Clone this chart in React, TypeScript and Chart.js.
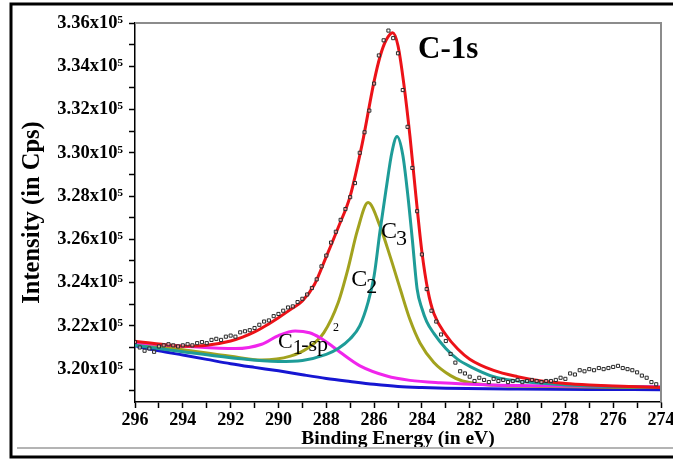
import React, { useEffect, useRef } from "react";
import { Chart, registerables } from "chart.js";
Chart.register(...registerables);

const FONT = "'Liberation Serif', 'Times New Roman', serif";

// Measured points (binding energy in eV, intensity in counts/s)
const dataEnergy = [
  296, 295.8, 295.6, 295.4, 295.2, 295, 294.8, 294.6, 294.4, 294.2,
  294, 293.8, 293.6, 293.4, 293.2, 293, 292.8, 292.6, 292.4, 292.2,
  292, 291.8, 291.6, 291.4, 291.2, 291, 290.8, 290.6, 290.4, 290.2,
  290, 289.8, 289.6, 289.4, 289.2, 289, 288.8, 288.6, 288.4, 288.2,
  288, 287.8, 287.6, 287.4, 287.2, 287, 286.8, 286.6, 286.4, 286.2,
  286, 285.8, 285.6, 285.4, 285.2, 285, 284.8, 284.6, 284.4, 284.2,
  284, 283.8, 283.6, 283.4, 283.2, 283, 282.8, 282.6, 282.4, 282.2,
  282, 281.8, 281.6, 281.4, 281.2, 281, 280.8, 280.6, 280.4, 280.2,
  280, 279.8, 279.6, 279.4, 279.2, 279, 278.8, 278.6, 278.4, 278.2,
  278, 277.8, 277.6, 277.4, 277.2, 277, 276.8, 276.6, 276.4, 276.2,
  276, 275.8, 275.6, 275.4, 275.2, 275, 274.8, 274.6, 274.4, 274.2,
];
const dataIntensity = [
  321250, 321000, 320850, 320950, 320800, 321050, 321100, 321150, 321100, 321050,
  321100, 321150, 321100, 321200, 321250, 321200, 321350, 321400, 321350, 321500,
  321550, 321500, 321700, 321750, 321800, 321900, 322050, 322200, 322250, 322450,
  322550, 322700, 322850, 322900, 323100, 323250, 323450, 323750, 324150, 324750,
  325250, 325850, 326350, 326900, 327400, 327950, 328600, 330000, 330950, 331950,
  333200, 334500, 335200, 335650, 335300, 334600, 332900, 331200, 329300, 327300,
  325300, 323700, 322700, 322200, 321600, 321300, 320700, 320300, 319900, 319800,
  319650, 319450, 319600, 319500, 319400, 319550, 319450, 319500, 319400, 319450,
  319500, 319400, 319450, 319500, 319450, 319400, 319450, 319450, 319500, 319600,
  319550, 319800, 319750, 319950, 319900, 320000, 319950, 320050, 320000, 320050,
  320100, 320150, 320050, 320000, 319950, 319850, 319700, 319600, 319400, 319300,
];

// Total fit envelope (red)
const fitEnergy = [296, 295, 294, 293, 292, 291.5, 291, 290.5, 290, 289.5, 289, 288.5, 288, 287.5, 287, 286.5, 286, 285.75, 285.5, 285.22, 285, 284.75, 284.5, 284.25, 284, 283.75, 283.5, 283, 282.5, 282, 281, 280, 279, 278, 277, 276, 275, 274];
const fitIntensity = [321290, 321160, 321060, 321100, 321300, 321480, 321720, 322030, 322380, 322750, 323150, 323900, 325200, 326550, 328000, 330400, 333300, 334450, 335200, 335550, 334950, 333130, 330770, 328000, 325420, 323630, 322570, 321590, 320930, 320460, 319940, 319650, 319450, 319340, 319270, 319220, 319180, 319150];

// C3 component (teal)
const c3Energy = [296, 294, 292, 290, 289, 288, 287.5, 287, 286.6, 286.25, 286, 285.75, 285.5, 285.25, 285.04, 284.8, 284.6, 284.4, 284.2, 284, 283.8, 283.5, 283, 282.5, 282, 281, 280, 279, 278, 276, 274];
const c3Intensity = [321100, 320800, 320530, 320350, 320400, 320680, 320950, 321400, 322000, 323100, 324300, 326400, 328300, 330050, 330750, 329900, 328150, 325980, 323700, 322800, 322200, 321650, 320950, 320450, 320130, 319650, 319450, 319350, 319270, 319200, 319150];

// C2 component (olive)
const c2Energy = [296, 294, 292, 290.7, 289.5, 288.8, 288.1, 287.5, 287.1, 286.7, 286.25, 285.75, 285.33, 284.9, 284.5, 284.08, 283.5, 282.8, 282.3, 281, 279, 277, 274];
const c2Intensity = [321200, 320900, 320590, 320420, 320600, 320950, 321690, 323080, 324600, 326400, 327700, 326600, 325210, 323680, 322290, 321210, 320310, 319700, 319450, 319250, 319200, 319170, 319150];

// C1-sp2 component (magenta)
const c1Energy = [296, 293.9, 291.8, 290.7, 290, 289.3, 288.7, 288.26, 287.8, 287.42, 286.59, 285.47, 284.5, 283.24, 281, 278, 274];
const c1Intensity = [321220, 321060, 320950, 321150, 321550, 321760, 321680, 321450, 321100, 320780, 320150, 319680, 319480, 319370, 319270, 319220, 319180];

// Background (blue)
const bgEnergy = [296, 295, 294, 293, 292, 291, 290, 289, 288, 287, 286, 285, 284, 283, 280, 277, 274];
const bgIntensity = [321080, 320850, 320650, 320450, 320250, 320080, 319920, 319740, 319570, 319430, 319300, 319200, 319150, 319120, 319080, 319060, 319050];

// Axis ticks
const xTickValues = [274, 275, 276, 277, 278, 279, 280, 281, 282, 283, 284, 285, 286, 287, 288, 289, 290, 291, 292, 293, 294, 295, 296];
const xTickLabels = ["274", "", "276", "", "278", "", "280", "", "282", "", "284", "", "286", "", "288", "", "290", "", "292", "", "294", "", "296"];
const yTickValues = [319000, 320000, 321000, 322000, 323000, 324000, 325000, 326000, 327000, 328000, 329000, 330000, 331000, 332000, 333000, 334000, 335000, 336000];
const yTickLabels = ["", "3.20x10\u2075", "", "3.22x10\u2075", "", "3.24x10\u2075", "", "3.26x10\u2075", "", "3.28x10\u2075", "", "3.30x10\u2075", "", "3.32x10\u2075", "", "3.34x10\u2075", "", "3.36x10\u2075"];

const xMin = 274;
const xMax = 296;
const yMin = 318480;
const yMax = 336000;

const pts = (xs: number[], ys: number[]) => xs.map((x, i) => ({ x, y: ys[i] }));

export default function App() {
  const ref = useRef<HTMLCanvasElement>(null);

  useEffect(() => {
    if (!ref.current) return;

    const framePlugin = {
      id: "frame",
      afterDraw(chart: any) {
        const { ctx, chartArea } = chart;
        ctx.save();
        ctx.strokeStyle = "#8c8c8c";
        ctx.lineWidth = 2;
        ctx.beginPath();
        ctx.moveTo(chartArea.left, chartArea.top);
        ctx.lineTo(chartArea.right, chartArea.top);
        ctx.lineTo(chartArea.right, chartArea.bottom);
        ctx.stroke();
        ctx.strokeStyle = "#b4b4b4";
        ctx.lineWidth = 2;
        ctx.beginPath();
        ctx.moveTo(17, 448);
        ctx.lineTo(673, 448);
        ctx.stroke();
        ctx.strokeStyle = "#000";
        ctx.lineWidth = 3;
        ctx.beginPath();
        ctx.moveTo(673, 4);
        ctx.lineTo(11, 4);
        ctx.lineTo(11, 457);
        ctx.lineTo(673, 457);
        ctx.stroke();
        ctx.restore();
      },
    };

    const labelPlugin = {
      id: "labels",
      afterDatasetsDraw(chart: any) {
        const { ctx } = chart;
        const xs = chart.scales.x;
        const ys = chart.scales.y;
        const put = (t: string, e: number, v: number, size: number, bold: boolean) => {
          ctx.font = `${bold ? "bold " : ""}${size}px ${FONT}`;
          ctx.fillText(t, xs.getPixelForValue(e), ys.getPixelForValue(v));
        };
        ctx.save();
        ctx.fillStyle = "#000";
        ctx.textAlign = "left";
        ctx.textBaseline = "alphabetic";
        put("C-1s", 284.16, 334385, 31, true);
        put("C", 285.71, 326078, 24, false);
        put("3", 285.08, 325755, 22, false);
        put("C", 286.96, 323862, 24, false);
        put("2", 286.33, 323540, 22, false);
        put("C", 290.02, 320955, 22, false);
        put("1", 289.4, 320678, 20, false);
        put("-sp", 289.05, 320817, 22, false);
        put("2", 287.72, 321740, 12, false);
        ctx.restore();
      },
    };

    const line = (label: string, color: string, xs: number[], ys: number[]) => ({
      label,
      data: pts(xs, ys),
      borderColor: color,
      backgroundColor: color,
      borderWidth: 3,
      pointRadius: 0,
      showLine: true,
      fill: false,
      cubicInterpolationMode: "monotone" as const,
    });

    const tickFont = { family: FONT, size: 18, weight: "bold" as const };

    const chart = new Chart(ref.current, {
      type: "line",
      data: {
        datasets: [
          {
            label: "Data",
            data: pts(dataEnergy, dataIntensity),
            showLine: false,
            pointStyle: "rect",
            pointRadius: 2.2,
            pointBorderWidth: 1,
            borderColor: "#2a2a2a",
            backgroundColor: "rgba(255,255,255,0.5)",
          },
          line("Fit", "#ec1218", fitEnergy, fitIntensity),
          line("C3", "#1e9c98", c3Energy, c3Intensity),
          line("C1-sp2", "#f025ec", c1Energy, c1Intensity),
          line("C2", "#a2a21e", c2Energy, c2Intensity),
          line("Background", "#1616d2", bgEnergy, bgIntensity),
        ],
      },
      options: {
        animation: false,
        responsive: true,
        maintainAspectRatio: false,
        layout: { padding: { left: 0, top: 23, right: 12, bottom: 0 } },
        plugins: { legend: { display: false }, tooltip: { enabled: false } },
        scales: {
          x: {
            type: "linear",
            reverse: true,
            min: xMin,
            max: xMax,
            afterBuildTicks: (s: any) => {
              s.ticks = xTickValues.map((v) => ({ value: v }));
            },
            afterFit: (s: any) => {
              s.height = 59;
              s.paddingLeft = 0;
              s.paddingRight = 0;
            },
            grid: { drawOnChartArea: false, drawTicks: true, tickLength: 6, color: "#000", tickWidth: 1.5 },
            border: { display: true, color: "#000", width: 1.5 },
            ticks: {
              autoSkip: false,
              maxRotation: 0,
              color: "#000",
              padding: 2,
              font: tickFont,
              callback: (v: any) => {
                const i = xTickValues.indexOf(Number(v));
                return i >= 0 ? xTickLabels[i] : "";
              },
            },
            title: {
              display: true,
              text: "Binding Energy (in eV)",
              color: "#000",
              font: { family: FONT, size: 19.5, weight: "bold" },
              padding: { top: 0, bottom: 10 },
            },
          },
          y: {
            type: "linear",
            min: yMin,
            max: yMax,
            afterBuildTicks: (s: any) => {
              s.ticks = yTickValues.map((v) => ({ value: v }));
            },
            afterFit: (s: any) => {
              s.width = 135;
            },
            grid: { drawOnChartArea: false, drawTicks: true, tickLength: 6, color: "#000", tickWidth: 1.5 },
            border: { display: true, color: "#000", width: 1.5 },
            ticks: {
              autoSkip: false,
              color: "#000",
              padding: 6,
              font: { family: FONT, size: 18.5, weight: "bold" },
              callback: (v: any) => {
                const i = yTickValues.indexOf(Number(v));
                return i >= 0 ? yTickLabels[i] : "";
              },
            },
            title: {
              display: true,
              text: "Intensity (in Cps)",
              color: "#000",
              font: { family: FONT, size: 24.5, weight: "bold" },
              padding: { top: 18, bottom: 0 },
            },
          },
        },
      },
      plugins: [framePlugin, labelPlugin],
    });

    return () => chart.destroy();
  }, []);

  return (
    <div style={{ position: "fixed", left: 0, top: 0, width: 673, height: 461, background: "#fff" }}>
      <canvas ref={ref} />
    </div>
  );
}
